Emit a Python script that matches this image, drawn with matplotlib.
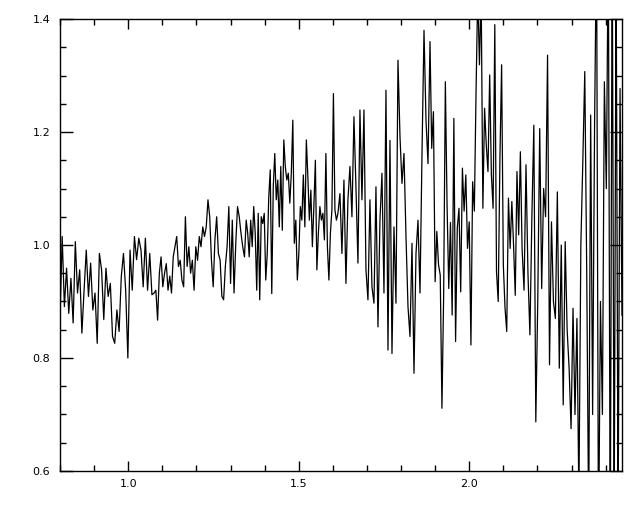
import numpy as np
import matplotlib
matplotlib.use("Agg")
import matplotlib.pyplot as plt
from matplotlib.ticker import MultipleLocator, FormatStrFormatter

# flux, one list per stretch of wavelength
flux_a = [0.868, 1.015, 0.891, 0.959, 0.879, 0.941, 0.862, 1.006, 0.915, 0.956,
          0.844, 0.92, 0.991, 0.909, 0.968, 0.885, 0.915, 0.826, 0.985, 0.956,
          0.868, 0.959, 0.909, 0.932, 0.838, 0.826, 0.885, 0.847, 0.944, 0.985,
          0.92, 0.80, 0.991, 0.92, 1.015, 0.974, 1.012, 0.991, 0.926, 1.012,
          0.92, 0.985, 0.912]
flux_b = [0.915, 0.92, 0.867, 0.95, 0.979, 0.926, 0.95, 0.967, 0.92, 0.945,
          0.915, 0.979, 0.997, 1.015, 0.962, 0.973, 0.938, 0.926, 1.05, 0.962,
          0.997, 0.95, 0.973, 0.92, 0.997, 0.973, 1.015, 0.997, 1.032, 1.015,
          1.032, 1.08, 1.05, 0.973, 0.926, 1.009, 1.05, 0.985, 0.973, 0.909,
          0.903, 0.962, 0.997, 1.068, 0.932, 1.044, 0.915, 1.003, 1.068, 1.05,
          1.021, 0.997, 0.979]
flux_c = [1.044, 1.021, 0.979, 1.044, 0.997, 1.068, 1.021, 0.92, 1.056, 0.903,
          1.05, 1.038, 1.056, 0.938, 0.985, 1.085, 1.133, 0.914, 1.103, 1.162,
          1.08, 1.115, 1.032, 1.139, 1.026, 1.186, 1.139, 1.115, 1.127, 1.074,
          1.127, 1.221, 1.003, 1.044, 0.938, 0.985, 1.068, 1.044, 1.124, 1.032,
          1.186, 1.121, 1.044, 1.097, 0.997, 1.068, 1.15, 0.956, 1.021, 1.068,
          1.044, 1.056, 1.009, 1.162, 0.997, 0.938, 1.021, 1.062, 1.268, 1.062,
          1.044]
flux_d = [1.056, 1.091, 0.985, 1.115, 0.932, 1.08, 1.139, 1.05, 1.227, 1.103,
          0.968, 1.239, 1.08, 1.239, 0.956, 0.903, 1.08, 0.926, 0.897, 1.103,
          0.855, 1.044, 1.127, 0.915, 1.274, 0.814, 1.185, 0.808, 1.032, 0.897,
          1.327, 1.192, 1.109, 1.162, 1.015, 0.891, 0.838, 1.003, 0.773, 0.985,
          1.044, 0.915, 1.162, 1.38, 1.221, 1.144]
flux_e = [1.36, 1.171, 1.236, 0.935, 1.024, 0.965, 0.947, 0.711, 0.911, 1.289,
          1.071, 0.923, 1.04, 0.876, 1.224, 0.829, 1.03, 1.065, 0.917, 1.136,
          1.06, 1.124, 0.994, 1.041, 0.823, 1.112, 1.06, 1.271, 1.45, 1.319,
          1.45, 1.065, 1.242, 1.177, 1.13, 1.301, 1.124, 1.065, 1.39, 0.953,
          0.9, 1.153, 1.319, 0.965, 0.888, 0.847, 1.083, 0.994, 1.077, 1.0,
          0.911, 1.13, 1.018, 1.165]
flux_f = [0.994, 0.92, 1.142, 0.95, 0.841, 1.05, 1.212, 0.687, 0.9, 1.206,
          0.923, 1.1, 1.05, 1.336, 0.788, 1.041, 0.9, 0.87, 1.094, 0.782,
          1.0, 0.717, 1.006, 0.85, 0.782, 0.675, 0.888, 0.7, 0.87, 0.55,
          1.0, 1.148, 1.307, 0.95, 0.5, 1.23, 0.7, 1.212, 1.55, 0.45,
          0.9, 0.7, 1.289, 1.1, 1.55, 0.45, 1.55, 0.5, 1.5, 0.5,
          1.277, 0.876]

# wavelength where each stretch starts (last entry = end of plot)
seg_edges = [0.80, 1.076, 1.346, 1.615, 1.885, 2.155, 2.448]

segments = [flux_a, flux_b, flux_c, flux_d, flux_e, flux_f]
wave = np.concatenate([
    np.linspace(seg_edges[i], seg_edges[i + 1], len(s), endpoint=(i == len(segments) - 1))
    for i, s in enumerate(segments)
])
flux = np.concatenate(segments)

fig = plt.figure(figsize=(6.4, 5.12), dpi=100)
ax = fig.add_axes([60 / 640, 1 - 471 / 512, 562 / 640, 452 / 512])
ax.plot(wave, flux, color="black", lw=0.9)

ax.set_xlim(0.8, 2.448)
ax.set_ylim(0.6, 1.4)
ax.xaxis.set_major_locator(MultipleLocator(0.5))
ax.xaxis.set_minor_locator(MultipleLocator(0.1))
ax.yaxis.set_major_locator(MultipleLocator(0.2))
ax.yaxis.set_minor_locator(MultipleLocator(0.05))
ax.xaxis.set_major_formatter(FormatStrFormatter("%.1f"))
ax.yaxis.set_major_formatter(FormatStrFormatter("%.1f"))

ax.tick_params(which="both", direction="in", top=True, right=True, width=1, labelsize=8)
ax.tick_params(axis="x", which="major", length=7, pad=6)
ax.tick_params(axis="x", which="minor", length=4)
ax.tick_params(axis="y", which="major", length=9, pad=7)
ax.tick_params(axis="y", which="minor", length=4.5)
for sp in ax.spines.values():
    sp.set_linewidth(1)

fig.savefig("out.png", dpi=100)
